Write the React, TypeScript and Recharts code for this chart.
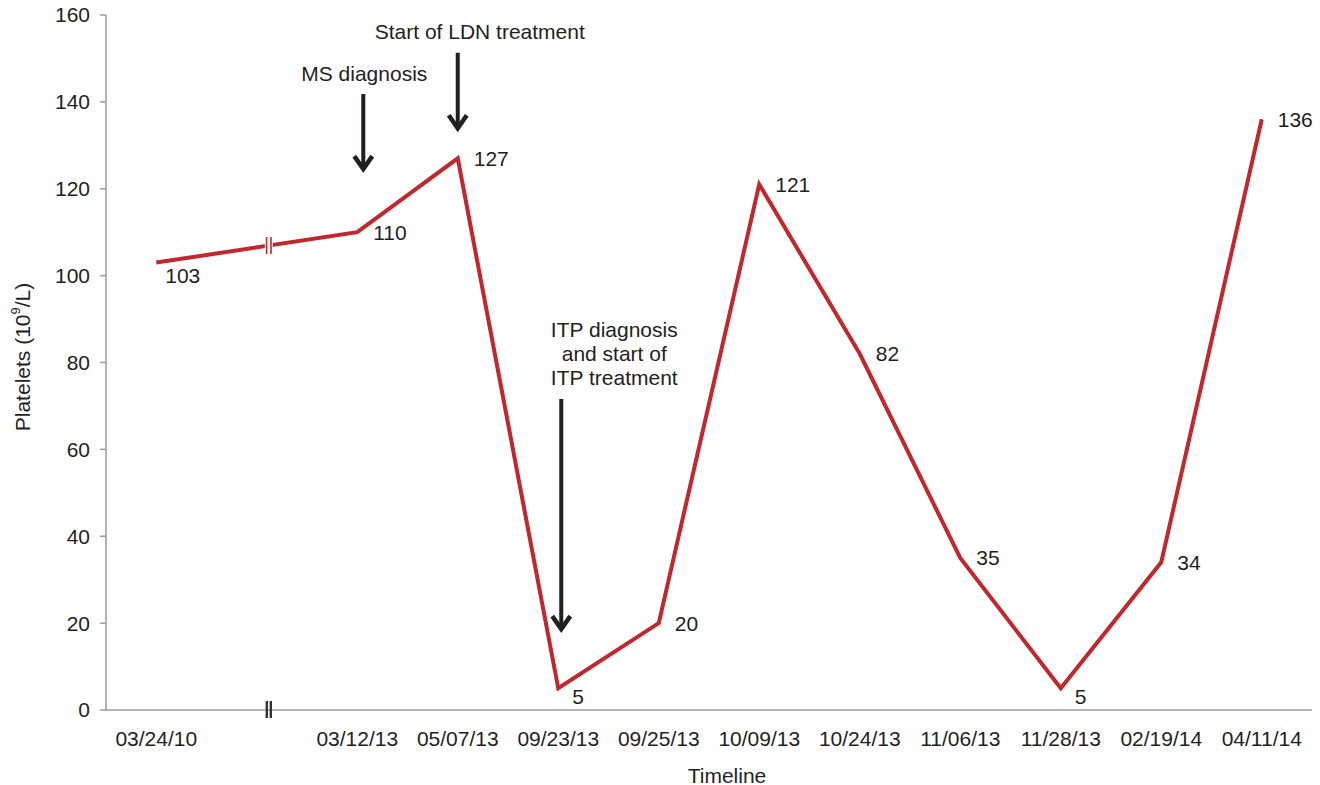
import React from 'react';
import {
  LineChart,
  Line,
  XAxis,
  YAxis,
  LabelList,
  ReferenceLine,
  ReferenceDot,
  Label,
} from 'recharts';

const categories = [
  '03/24/10', '', '03/12/13', '05/07/13', '09/23/13', '09/25/13',
  '10/09/13', '10/24/13', '11/06/13', '11/28/13', '02/19/14', '04/11/14',
];
const platelets: (number | null)[] = [103, null, 110, 127, 5, 20, 121, 82, 35, 5, 34, 136];
const yTicks = [0, 20, 40, 60, 80, 100, 120, 140, 160];

// annotation arrows (data coordinates)
const arrowX = [2.06, 3.0, 4.03];
const arrowFrom = [141.8, 151.3, 71.6];
const arrowTo = [123.6, 133, 17.7];
const arrowTexts = [['MS diagnosis'], ['Start of LDN treatment'], ['ITP diagnosis', 'and start of', 'ITP treatment']];
const arrowTextDx = [1, 22, 53];

// axis break position (category index units)
const breakX = 1.12;

const TEXT = '#231f20';
const RED = '#c1272d';
const AXIS = '#a0a0a0';
const FONT = '"Liberation Sans", Arial, Helvetica, sans-serif';
const FS = 21;

const data = categories.map((c, i) => ({ i, label: c, value: platelets[i] }));

// label placement style per point
const labelPlacement = ['below', 'right', 'right', 'right', 'belowRight', 'right', 'right', 'right', 'right', 'belowRight', 'right', 'right'];

const renderLabel = (props: any) => {
  const { x, y, value, index } = props;
  if (value == null || x == null || y == null) return null;
  const p = labelPlacement[index] || 'right';
  let dx = 16;
  let dy = 0;
  if (p === 'below') {
    dx = 9;
    dy = 13;
  } else if (p === 'belowRight') {
    dx = 14;
    dy = 8;
  }
  return (
    <text
      x={x + dx}
      y={y + dy}
      dominantBaseline="central"
      textAnchor="start"
      fill={TEXT}
      fontSize={FS}
      fontFamily={FONT}
    >
      {value}
    </text>
  );
};

const makeArrow = (k: number) => (props: any) => {
  const { x1, y1, x2, y2 } = props;
  if (x1 == null) return null;
  const x = x1;
  const top = Math.min(y1, y2);
  const tip = Math.max(y1, y2);
  const lines = arrowTexts[k];
  const lh = 24;
  const firstCenter = top - 21 - (lines.length - 1) * lh;
  return (
    <g>
      <line x1={x} y1={top} x2={x} y2={tip - 5} stroke={TEXT} strokeWidth={4} />
      <path
        d={`M ${x - 9} ${tip - 17} L ${x} ${tip - 4} L ${x + 9} ${tip - 17}`}
        fill="none"
        stroke={TEXT}
        strokeWidth={4.5}
        strokeLinejoin="miter"
      />
      {lines.map((t, j) => (
        <text
          key={j}
          x={x + arrowTextDx[k]}
          y={firstCenter + j * lh}
          textAnchor="middle"
          dominantBaseline="central"
          fill={TEXT}
          fontSize={FS}
          fontFamily={FONT}
        >
          {t}
        </text>
      ))}
    </g>
  );
};

const lineBreakShape = (props: any) => {
  const { cx, cy } = props;
  if (cx == null) return null;
  return (
    <g>
      <rect x={cx - 4} y={cy - 9} width={8} height={18} fill="#ffffff" />
      <line x1={cx - 2.2} y1={cy - 8.5} x2={cx - 2.2} y2={cy + 8.5} stroke={RED} strokeWidth={1.6} />
      <line x1={cx + 2.2} y1={cy - 8.5} x2={cx + 2.2} y2={cy + 8.5} stroke={RED} strokeWidth={1.6} />
    </g>
  );
};

const axisBreakShape = (props: any) => {
  const { cx, cy } = props;
  if (cx == null) return null;
  return (
    <g>
      <line x1={cx - 2} y1={cy - 9} x2={cx - 2} y2={cy + 8} stroke="#333333" strokeWidth={2.4} />
      <line x1={cx + 2} y1={cy - 9} x2={cx + 2} y2={cy + 8} stroke="#333333" strokeWidth={2.4} />
    </g>
  );
};

const v0 = platelets[0] as number;
const v2 = platelets[2] as number;
const breakY = v0 + ((v2 - v0) * breakX) / 2;

export default function App() {
  return (
    <div style={{ position: 'absolute', left: 0, top: 0, width: 1320, height: 785, background: '#fff' }}>
      <LineChart
        width={1320}
        height={785}
        data={data}
        margin={{ top: 15, right: 8, bottom: 0, left: 0 }}
      >
        <XAxis
          type="number"
          dataKey="i"
          domain={[-0.5, 11.5]}
          ticks={categories.map((_, i) => i)}
          tickFormatter={(v: number) => categories[v] ?? ''}
          interval={0}
          height={75}
          tickLine={false}
          tickSize={0}
          tickMargin={21}
          axisLine={{ stroke: AXIS, strokeWidth: 1.6 }}
          tick={{ fill: TEXT, fontSize: FS, fontFamily: FONT }}
          allowDataOverflow
        >
          <Label
            content={(p: any) => {
              const vb = p.viewBox || {};
              return (
                <text
                  x={vb.x + vb.width / 2 + 18}
                  y={775}
                  textAnchor="middle"
                  dominantBaseline="central"
                  fill={TEXT}
                  fontSize={FS}
                  fontFamily={FONT}
                >
                  Timeline
                </text>
              );
            }}
          />
        </XAxis>
        <YAxis
          type="number"
          domain={[0, 160]}
          ticks={yTicks}
          width={106}
          tickSize={6}
          tickMargin={10}
          axisLine={{ stroke: AXIS, strokeWidth: 1.6 }}
          tickLine={{ stroke: AXIS, strokeWidth: 1.6 }}
          tick={{ fill: TEXT, fontSize: FS, fontFamily: FONT }}
          allowDataOverflow
        >
          <Label
            content={() => (
              <text
                x={22}
                y={357}
                transform="rotate(-90 22 357)"
                textAnchor="middle"
                dominantBaseline="central"
                fill={TEXT}
                fontSize={FS}
                fontFamily={FONT}
              >
                Platelets (10<tspan dy={-7} fontSize={13}>9</tspan><tspan dy={7}>/L)</tspan>
              </text>
            )}
          />
        </YAxis>
        <Line
          type="linear"
          dataKey="value"
          stroke={RED}
          strokeWidth={4}
          dot={false}
          activeDot={false}
          connectNulls
          isAnimationActive={false}
        >
          <LabelList dataKey="value" content={renderLabel} />
        </Line>
        <ReferenceDot x={breakX} y={breakY} r={0} shape={lineBreakShape} ifOverflow="visible" />
        <ReferenceDot x={breakX} y={0} r={0} shape={axisBreakShape} ifOverflow="visible" />
        {arrowX.map((ax, k) => (
          <ReferenceLine
            key={k}
            segment={[
              { x: ax, y: arrowFrom[k] },
              { x: ax, y: arrowTo[k] },
            ]}
            ifOverflow="visible"
            shape={makeArrow(k)}
          />
        ))}
      </LineChart>
    </div>
  );
}
